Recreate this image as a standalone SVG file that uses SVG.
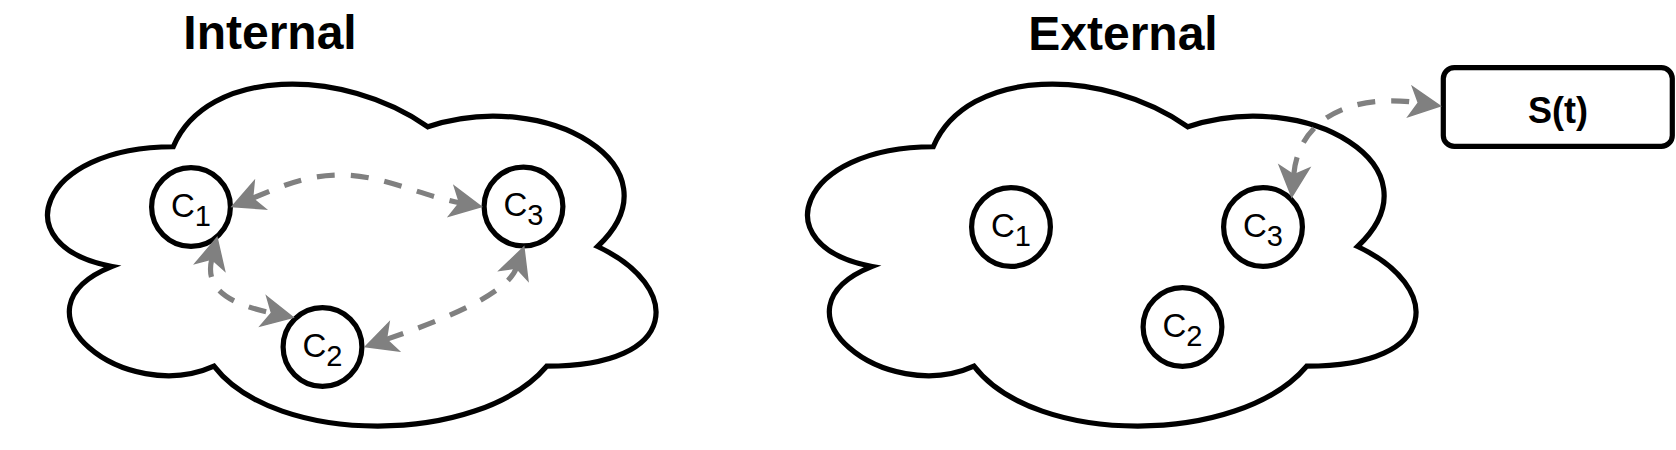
<svg xmlns="http://www.w3.org/2000/svg" width="1676" height="450" viewBox="0 0 1676 450">
  <style>
    .cloud { fill: #ffffff; stroke: #000000; stroke-width: 5.2; }
    .node { fill: #ffffff; stroke: #000000; stroke-width: 5.2; }
    .title { font-family: "Liberation Sans", Arial, Helvetica, sans-serif; font-weight: bold; font-size: 48px; fill: #000000; text-anchor: middle; }
    .lbl { font-family: "Liberation Sans", Arial, Helvetica, sans-serif; font-size: 33px; fill: #000000; text-anchor: middle; }
    .sub { font-size: 29px; }
    .box { font-family: "Liberation Sans", Arial, Helvetica, sans-serif; font-weight: bold; font-size: 36px; fill: #000000; text-anchor: middle; }
    .link { fill: none; stroke: #808080; stroke-width: 5.2; stroke-dasharray: 18 16; marker-start: url(#arr); marker-end: url(#arr); }
  </style>
  <defs>
    <marker id="arr" markerUnits="userSpaceOnUse" markerWidth="40" markerHeight="40" refX="9" refY="16" orient="auto-start-reverse" overflow="visible">
      <path d="M 1 1 L 31 16 L 1 31 L 9 16 Z" fill="#808080" stroke="#808080" stroke-width="1.6" stroke-linejoin="miter"/>
    </marker>
    <path id="cloudShape" d="M 169.75 99.75 C 33.95 99.75 0 199.5 108.64 219.45 C 0 263.34 122.22 359.1 210.49 319.2 C 271.6 399 475.3 399 543.2 319.2 C 679 319.2 679 239.4 594.125 199.5 C 679 119.7 543.2 39.9 424.375 79.8 C 339.5 19.95 203.7 19.95 169.75 99.75 Z"/>
  </defs>

  <g id="title-internal"><text class="title" x="270" y="48.5">Internal</text></g>
  <g id="title-external"><text class="title" x="1123" y="49.5">External</text></g>

  <g id="cloud-internal"><use href="#cloudShape" class="cloud" transform="translate(3.5,47)"/></g>
  <g id="cloud-external"><use href="#cloudShape" class="cloud" transform="translate(763.5,47)"/></g>

  <g id="int-c1">
    <circle class="node" cx="191" cy="207" r="39.4"/>
    <text class="lbl" x="191" y="216.5">C<tspan class="sub" dy="9">1</tspan></text>
  </g>
  <g id="int-c2">
    <circle class="node" cx="322.5" cy="347" r="39.4"/>
    <text class="lbl" x="322.5" y="356.5">C<tspan class="sub" dy="9">2</tspan></text>
  </g>
  <g id="int-c3">
    <circle class="node" cx="523.5" cy="206.5" r="39.4"/>
    <text class="lbl" x="523.5" y="216">C<tspan class="sub" dy="9">3</tspan></text>
  </g>

  <g id="ext-c1">
    <circle class="node" cx="1011" cy="227" r="39.4"/>
    <text class="lbl" x="1011" y="236.5">C<tspan class="sub" dy="9">1</tspan></text>
  </g>
  <g id="ext-c2">
    <circle class="node" cx="1182.5" cy="327" r="39.4"/>
    <text class="lbl" x="1182.5" y="336.5">C<tspan class="sub" dy="9">2</tspan></text>
  </g>
  <g id="ext-c3">
    <circle class="node" cx="1263" cy="227" r="39.4"/>
    <text class="lbl" x="1263" y="236.5">C<tspan class="sub" dy="9">3</tspan></text>
  </g>

  <g id="signal">
    <rect x="1443.3" y="67.6" width="229" height="78.8" rx="11" ry="11" fill="#ffffff" stroke="#000000" stroke-width="5.2"/>
    <text class="box" x="1558" y="122.5">S(t)</text>
  </g>

  <g id="connectors">
    <path class="link" d="M 252.5 198.2 C 285 184.8 307 175 342 175 C 382 175 420.2 195.5 459.6 202.7"/>
    <path class="link" d="M 211.8 259.1 C 205 287 225 303 271.5 312.9"/>
    <path class="link" d="M 386.3 339.4 C 433.6 323.1 506.3 296.2 516.4 267.9"/>
    <path class="link" d="M 1293.7 174.9 C 1298.5 120.1 1349.1 92.9 1418.4 102.8"/>
  </g>
</svg>
